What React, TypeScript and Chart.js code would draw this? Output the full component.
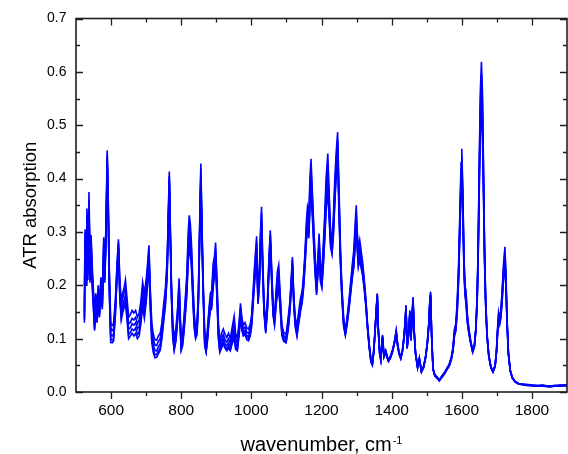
import React, { useEffect, useRef } from "react";
import { Chart, registerables } from "chart.js";

Chart.register(...registerables);

// ---- data ----
const wavenumbers = [
  524, 526, 529, 531, 534, 537, 540, 543, 546, 549,
  553, 556, 560, 563, 567, 571, 575, 579, 582, 586,
  589, 592, 595, 599, 603, 607, 612, 617, 621, 625,
  629, 633, 637, 641, 645, 650, 655, 660, 665, 670,
  675, 680, 685, 690, 695, 700, 704, 708, 712, 716,
  720, 725, 730, 735, 740, 745, 750, 755, 760, 763,
  766, 769, 772, 776, 780, 785, 790, 794, 797, 800,
  804, 808, 812, 816, 820, 823, 826, 829, 833, 837,
  841, 845, 849, 853, 856, 859, 863, 867, 871, 875,
  879, 883, 887, 891, 895, 898, 902, 906, 910, 915,
  920, 925, 930, 935, 940, 945, 951, 955, 960, 965,
  969, 973, 977, 982, 987, 992, 997, 1001, 1006, 1010,
  1015, 1019, 1023, 1026, 1029, 1032, 1036, 1041, 1046, 1050,
  1054, 1058, 1062, 1066, 1071, 1074, 1078, 1082, 1087, 1092,
  1099, 1105, 1110, 1114, 1117, 1121, 1125, 1130, 1135, 1140,
  1145, 1149, 1153, 1157, 1160, 1164, 1167, 1170, 1174, 1178,
  1182, 1186, 1190, 1193, 1197, 1201, 1205, 1209, 1213, 1218,
  1222, 1226, 1230, 1234, 1238, 1242, 1246, 1250, 1254, 1258,
  1263, 1268, 1273, 1278, 1283, 1288, 1292, 1296, 1299, 1302,
  1305, 1309, 1313, 1317, 1322, 1327, 1331, 1336, 1341, 1345,
  1349, 1353, 1356, 1359, 1362, 1366, 1369, 1374, 1378, 1383,
  1387, 1391, 1397, 1403, 1408, 1413, 1417, 1421, 1426, 1431,
  1436, 1441, 1444, 1448, 1452, 1455, 1458, 1461, 1464, 1468,
  1474, 1479, 1485, 1491, 1497, 1502, 1506, 1509, 1511, 1514,
  1518, 1523, 1530, 1536, 1543, 1550, 1557, 1564, 1570, 1575,
  1579, 1583, 1587, 1591, 1595, 1598, 1600, 1603, 1606, 1609,
  1612, 1616, 1620, 1625, 1631, 1636, 1640, 1644, 1647, 1650,
  1653, 1656, 1659, 1662, 1665, 1668, 1672, 1677, 1683, 1689,
  1695, 1699, 1702, 1705, 1708, 1711, 1715, 1719, 1723, 1726,
  1729, 1733, 1738, 1744, 1752, 1762, 1775, 1790, 1800, 1815,
  1830, 1848, 1865, 1880, 1895, 1900,
];

const spectrum1 = [
  .135, .305, .210, .344, .250, .375, .250, .294, .240, .200,
  .140, .185, .160, .200, .170, .215, .180, .290, .230, .330,
  .453, .360, .230, .130, .125, .128, .170, .240, .286, .210,
  .170, .185, .195, .210, .180, .140, .145, .153, .148, .153,
  .140, .148, .170, .206, .185, .210, .240, .275, .190, .130,
  .110, .098, .097, .105, .110, .130, .165, .195, .250, .330,
  .413, .310, .210, .130, .100, .120, .160, .213, .150, .098,
  .110, .140, .180, .220, .300, .331, .315, .280, .210, .150,
  .118, .125, .190, .330, .428, .320, .200, .110, .088, .120,
  .155, .185, .190, .240, .255, .280, .210, .130, .095, .110,
  .118, .108, .102, .110, .100, .120, .142, .110, .100, .130,
  .166, .140, .125, .130, .120, .118, .128, .145, .200, .245,
  .292, .185, .230, .300, .347, .260, .170, .125, .175, .250,
  .303, .230, .165, .140, .195, .225, .238, .185, .125, .112,
  .108, .140, .170, .215, .253, .180, .140, .125, .150, .175,
  .190, .220, .262, .320, .347, .335, .400, .437, .375, .310,
  .250, .210, .255, .297, .240, .225, .275, .330, .400, .447,
  .370, .300, .285, .330, .400, .450, .487, .380, .270, .200,
  .140, .115, .140, .170, .205, .240, .265, .315, .350, .300,
  .270, .285, .265, .245, .210, .170, .130, .090, .062, .055,
  .080, .120, .155, .185, .120, .075, .063, .107, .070, .078,
  .068, .060, .068, .080, .095, .116, .092, .075, .066, .080,
  .110, .163, .085, .110, .153, .100, .140, .178, .120, .075,
  .048, .064, .040, .048, .068, .095, .130, .175, .188, .110,
  .045, .033, .028, .023, .030, .036, .044, .052, .065, .085,
  .118, .128, .170, .240, .350, .430, .456, .380, .260, .200,
  .190, .145, .120, .098, .078, .088, .120, .185, .290, .440,
  .566, .619, .560, .420, .270, .180, .110, .070, .048, .040,
  .050, .080, .120, .150, .140, .150, .190, .240, .272, .220,
  .140, .075, .042, .028, .020, .016, .015, .014, .013, .012,
  .013, .011, .012, .013, .013, .012,
];

const spectrum2 = [
  .140, .290, .220, .330, .240, .360, .235, .285, .230, .190,
  .135, .175, .150, .190, .160, .205, .175, .280, .225, .320,
  .445, .350, .220, .120, .115, .118, .160, .235, .280, .200,
  .160, .175, .185, .195, .168, .128, .130, .138, .135, .140,
  .128, .135, .158, .195, .170, .198, .230, .265, .180, .120,
  .100, .088, .087, .095, .100, .120, .155, .185, .240, .320,
  .405, .300, .200, .120, .090, .112, .152, .205, .140, .090,
  .102, .132, .170, .210, .285, .312, .300, .268, .200, .140,
  .112, .120, .182, .320, .418, .310, .192, .102, .082, .112,
  .148, .175, .180, .225, .245, .268, .198, .120, .088, .100,
  .108, .098, .093, .100, .092, .110, .130, .100, .092, .122,
  .158, .132, .118, .122, .112, .110, .120, .138, .192, .235,
  .280, .178, .220, .290, .335, .250, .163, .120, .168, .242,
  .295, .222, .158, .135, .190, .210, .222, .178, .120, .106,
  .102, .132, .165, .210, .248, .175, .135, .118, .143, .168,
  .183, .213, .255, .310, .335, .320, .385, .420, .362, .300,
  .240, .200, .245, .285, .228, .215, .262, .315, .380, .425,
  .355, .290, .275, .318, .385, .435, .472, .365, .260, .193,
  .135, .112, .136, .165, .198, .232, .255, .302, .335, .290,
  .258, .272, .255, .238, .205, .166, .127, .088, .060, .053,
  .078, .118, .153, .183, .118, .073, .062, .105, .068, .077,
  .067, .059, .067, .079, .094, .114, .090, .074, .065, .079,
  .108, .160, .084, .108, .150, .099, .138, .175, .118, .074,
  .047, .063, .039, .047, .067, .094, .128, .172, .185, .108,
  .044, .032, .027, .022, .029, .035, .043, .051, .063, .082,
  .114, .124, .164, .232, .338, .416, .440, .368, .252, .195,
  .183, .140, .117, .096, .077, .087, .118, .180, .282, .425,
  .545, .595, .540, .405, .262, .175, .108, .069, .047, .039,
  .049, .078, .116, .145, .136, .146, .184, .232, .262, .212,
  .136, .073, .041, .027, .020, .016, .014, .013, .013, .012,
  .012, .011, .012, .012, .013, .012,
];

const spectrum3 = [
  .150, .280, .230, .320, .230, .350, .220, .275, .220, .180,
  .125, .165, .140, .175, .150, .195, .165, .265, .215, .310,
  .440, .340, .205, .108, .105, .108, .150, .225, .275, .190,
  .148, .162, .172, .182, .155, .118, .120, .128, .125, .130,
  .118, .123, .145, .185, .158, .188, .220, .255, .170, .110,
  .090, .078, .077, .085, .090, .112, .145, .175, .232, .312,
  .400, .290, .192, .112, .085, .105, .145, .198, .132, .085,
  .096, .125, .160, .198, .270, .295, .285, .255, .190, .132,
  .108, .115, .175, .310, .408, .300, .185, .096, .078, .106,
  .140, .165, .170, .212, .235, .255, .188, .112, .082, .092,
  .100, .090, .086, .092, .085, .100, .118, .092, .085, .115,
  .150, .125, .112, .116, .106, .104, .114, .132, .185, .225,
  .268, .172, .212, .280, .322, .242, .157, .116, .162, .235,
  .288, .215, .152, .132, .180, .198, .210, .170, .115, .102,
  .098, .125, .160, .205, .243, .170, .130, .112, .137, .160,
  .177, .206, .248, .300, .325, .305, .370, .402, .350, .290,
  .232, .192, .235, .275, .218, .206, .250, .300, .362, .405,
  .340, .282, .268, .308, .372, .422, .458, .352, .252, .187,
  .130, .110, .132, .160, .192, .225, .246, .290, .322, .280,
  .248, .262, .245, .230, .200, .162, .124, .086, .058, .052,
  .076, .116, .151, .181, .116, .072, .061, .104, .067, .076,
  .066, .058, .066, .078, .093, .112, .088, .073, .064, .078,
  .106, .158, .083, .106, .148, .098, .136, .172, .116, .073,
  .046, .062, .038, .046, .066, .093, .126, .170, .182, .106,
  .043, .031, .026, .022, .028, .034, .042, .050, .062, .080,
  .110, .120, .158, .224, .326, .402, .425, .356, .245, .190,
  .176, .136, .114, .094, .076, .086, .116, .176, .274, .410,
  .525, .570, .518, .390, .254, .170, .106, .068, .046, .038,
  .048, .076, .113, .141, .132, .142, .178, .224, .252, .205,
  .132, .072, .040, .027, .019, .015, .014, .013, .012, .011,
  .012, .010, .011, .012, .012, .012,
];

const spectrum4 = [
  .200, .300, .200, .310, .220, .340, .210, .265, .210, .170,
  .118, .155, .135, .165, .145, .185, .160, .255, .210, .300,
  .430, .330, .195, .100, .097, .100, .145, .220, .270, .180,
  .140, .155, .165, .172, .147, .108, .112, .118, .115, .120,
  .108, .113, .135, .170, .145, .175, .210, .245, .160, .100,
  .082, .070, .070, .077, .082, .105, .138, .168, .225, .305,
  .395, .285, .185, .105, .080, .100, .140, .192, .125, .080,
  .090, .118, .152, .188, .255, .278, .270, .245, .182, .125,
  .104, .110, .170, .300, .398, .290, .178, .090, .076, .100,
  .134, .158, .162, .202, .225, .245, .180, .105, .077, .086,
  .094, .085, .080, .086, .080, .094, .108, .085, .080, .110,
  .145, .120, .108, .112, .102, .100, .110, .128, .180, .218,
  .258, .168, .206, .272, .312, .236, .152, .113, .158, .230,
  .282, .210, .147, .128, .172, .188, .200, .163, .110, .098,
  .094, .120, .155, .200, .238, .166, .126, .108, .132, .155,
  .172, .200, .242, .290, .315, .295, .355, .385, .338, .280,
  .225, .186, .228, .268, .212, .200, .240, .290, .348, .390,
  .330, .276, .262, .300, .362, .412, .446, .342, .246, .182,
  .126, .108, .129, .156, .187, .219, .238, .280, .312, .272,
  .240, .254, .238, .224, .196, .159, .122, .085, .057, .051,
  .075, .115, .150, .180, .115, .071, .060, .103, .066, .075,
  .065, .058, .065, .077, .092, .111, .087, .072, .063, .077,
  .105, .156, .082, .105, .146, .097, .135, .170, .115, .072,
  .046, .062, .038, .046, .065, .092, .125, .168, .180, .105,
  .043, .031, .026, .021, .028, .034, .042, .049, .061, .078,
  .107, .117, .153, .217, .316, .390, .412, .346, .239, .186,
  .170, .132, .112, .093, .075, .085, .115, .172, .267, .396,
  .506, .545, .498, .376, .247, .166, .104, .067, .046, .038,
  .048, .075, .110, .138, .129, .139, .173, .217, .243, .199,
  .129, .071, .040, .026, .019, .015, .014, .013, .012, .011,
  .012, .010, .011, .012, .012, .011,
];

const spectrum5 = [
  .130, .270, .210, .300, .210, .330, .205, .255, .200, .165,
  .115, .150, .130, .160, .140, .180, .155, .245, .205, .290,
  .425, .320, .185, .093, .092, .095, .140, .215, .265, .175,
  .135, .148, .158, .165, .140, .100, .105, .110, .105, .110,
  .100, .105, .128, .160, .138, .168, .200, .240, .155, .095,
  .075, .064, .065, .072, .078, .100, .132, .162, .220, .300,
  .390, .280, .180, .100, .078, .096, .136, .188, .120, .078,
  .087, .112, .146, .180, .245, .265, .258, .236, .175, .120,
  .100, .107, .165, .295, .390, .285, .172, .086, .075, .096,
  .130, .152, .156, .195, .218, .238, .174, .100, .074, .082,
  .090, .082, .077, .082, .077, .090, .100, .080, .077, .106,
  .140, .115, .105, .108, .098, .096, .106, .124, .175, .212,
  .250, .165, .200, .265, .305, .230, .148, .110, .155, .225,
  .277, .205, .143, .125, .165, .180, .192, .158, .106, .095,
  .092, .116, .150, .196, .234, .162, .122, .104, .128, .150,
  .168, .195, .236, .282, .308, .288, .345, .372, .328, .272,
  .220, .182, .222, .262, .207, .195, .233, .282, .338, .378,
  .322, .270, .258, .294, .354, .404, .436, .334, .240, .178,
  .123, .106, .126, .152, .183, .214, .232, .272, .305, .265,
  .234, .248, .232, .219, .192, .156, .120, .084, .056, .050,
  .074, .114, .149, .179, .114, .070, .060, .102, .065, .074,
  .064, .057, .064, .076, .091, .110, .086, .071, .062, .076,
  .104, .154, .081, .104, .144, .096, .134, .168, .114, .071,
  .045, .061, .037, .045, .064, .091, .124, .166, .178, .104,
  .042, .030, .025, .021, .027, .033, .041, .048, .060, .076,
  .104, .114, .148, .210, .306, .378, .400, .337, .233, .182,
  .165, .129, .110, .092, .074, .084, .114, .169, .260, .384,
  .490, .515, .475, .362, .240, .162, .102, .066, .045, .037,
  .047, .074, .108, .135, .126, .136, .168, .211, .236, .194,
  .126, .070, .039, .026, .019, .015, .013, .012, .012, .011,
  .011, .010, .011, .011, .012, .011,
];

const spectra = [spectrum1, spectrum2, spectrum3, spectrum4, spectrum5];

const xTickValues = [600, 800, 1000, 1200, 1400, 1600, 1800];
const yTickValues = [0.0, 0.1, 0.2, 0.3, 0.4, 0.5, 0.6, 0.7];
const xMinorTickValues = [500, 700, 900, 1100, 1300, 1500, 1700, 1900];
const yMinorTickValues = [0.05, 0.15, 0.25, 0.35, 0.45, 0.55, 0.65];

const xTitle = "wavenumber, cm";
const xTitleSup = "-1";
const yTitle = "ATR absorption";

const X_MIN = 500;
const X_MAX = 1900;
const Y_MIN = 0;
const Y_MAX = 0.7;

const FONT = "'Liberation Sans', Arial, Helvetica, sans-serif";
const LINE_COLOR = "#0000ff";
const AXIS_COLOR = "#1e1e1e";

const framePlugin = {
  id: "frameTicks",
  afterDraw(chart: any) {
    const { ctx, chartArea, scales } = chart;
    const { left, right, top, bottom } = chartArea;
    const xs = scales.x;
    const ys = scales.y;
    ctx.save();
    ctx.strokeStyle = AXIS_COLOR;
    ctx.lineWidth = 1.6;
    ctx.strokeRect(left, top, right - left, bottom - top);

    ctx.lineWidth = 1.3;
    ctx.beginPath();
    const MAJ = 7;
    const MIN = 4;
    xTickValues.forEach((v) => {
      const px = Math.round(xs.getPixelForValue(v)) + 0.5;
      ctx.moveTo(px, bottom);
      ctx.lineTo(px, bottom + MAJ);
      ctx.moveTo(px, top);
      ctx.lineTo(px, top + MAJ);
    });
    xMinorTickValues.forEach((v) => {
      if (v <= X_MIN || v >= X_MAX) return;
      const px = Math.round(xs.getPixelForValue(v)) + 0.5;
      ctx.moveTo(px, bottom);
      ctx.lineTo(px, bottom + MIN);
      ctx.moveTo(px, top);
      ctx.lineTo(px, top + MIN);
    });
    yTickValues.forEach((v) => {
      const py = Math.round(ys.getPixelForValue(v)) + 0.5;
      ctx.moveTo(left, py);
      ctx.lineTo(left + MAJ, py);
      ctx.moveTo(right, py);
      ctx.lineTo(right - MAJ, py);
    });
    yMinorTickValues.forEach((v) => {
      const py = Math.round(ys.getPixelForValue(v)) + 0.5;
      ctx.moveTo(left, py);
      ctx.lineTo(left + MIN, py);
      ctx.moveTo(right, py);
      ctx.lineTo(right - MIN, py);
    });
    ctx.stroke();

    // axis titles
    ctx.fillStyle = "#000";
    const cx = (left + right) / 2;
    ctx.font = `20px ${FONT}`;
    const w1 = ctx.measureText(xTitle).width;
    ctx.font = `11px ${FONT}`;
    const w2 = ctx.measureText(xTitleSup).width;
    const startX = cx - (w1 + w2 + 1) / 2;
    ctx.textAlign = "left";
    ctx.textBaseline = "alphabetic";
    ctx.font = `20px ${FONT}`;
    ctx.fillText(xTitle, startX, 451);
    ctx.font = `11px ${FONT}`;
    ctx.fillText(xTitleSup, startX + w1 + 1, 444);

    ctx.translate(31, (top + bottom) / 2);
    ctx.rotate(-Math.PI / 2);
    ctx.textAlign = "center";
    ctx.textBaseline = "middle";
    ctx.font = `18.5px ${FONT}`;
    ctx.fillText(yTitle, 0, 0);
    ctx.restore();
  },
};

export default function App() {
  const canvasRef = useRef<HTMLCanvasElement | null>(null);

  useEffect(() => {
    if (!canvasRef.current) return;
    const datasets = spectra.map((s, k) => ({
      label: `spectrum ${k + 1}`,
      data: wavenumbers.map((x, i) => ({ x, y: s[i] })),
      borderColor: LINE_COLOR,
      backgroundColor: LINE_COLOR,
      borderWidth: 1.6,
      pointRadius: 0,
      tension: 0,
      fill: false,
    }));

    const chart = new Chart(canvasRef.current, {
      type: "line",
      data: { datasets },
      options: {
        animation: false,
        responsive: false,
        devicePixelRatio: 1,
        events: [],
        layout: { padding: { top: 18.5, right: 1, left: 0, bottom: 0 } },
        plugins: {
          legend: { display: false },
          tooltip: { enabled: false },
          title: { display: false },
        },
        scales: {
          x: {
            type: "linear",
            min: X_MIN,
            max: X_MAX,
            grid: { display: false, drawTicks: false },
            border: { display: false },
            afterBuildTicks: (scale: any) => {
              scale.ticks = xTickValues.map((v) => ({ value: v }));
            },
            afterFit: (scale: any) => {
              scale.height = 62;
            },
            ticks: {
              autoSkip: false,
              maxRotation: 0,
              minRotation: 0,
              padding: 9,
              color: "#000",
              font: { family: FONT, size: 15.5 },
              callback: (v: any) => String(v),
            },
          },
          y: {
            type: "linear",
            min: Y_MIN,
            max: Y_MAX,
            grid: { display: false, drawTicks: false },
            border: { display: false },
            afterBuildTicks: (scale: any) => {
              scale.ticks = yTickValues.map((v) => ({ value: v }));
            },
            afterFit: (scale: any) => {
              scale.width = 76;
            },
            ticks: {
              autoSkip: false,
              padding: 9.5,
              color: "#000",
              font: { family: FONT, size: 14 },
              callback: (v: any) => Number(v).toFixed(1),
            },
          },
        },
      },
      plugins: [framePlugin],
    });
    return () => chart.destroy();
  }, []);

  return (
    <div style={{ position: "absolute", left: 0, top: 0, width: 568, height: 454, background: "#fff" }}>
      <canvas ref={canvasRef} width={568} height={454} style={{ width: 568, height: 454, display: "block" }} />
    </div>
  );
}
